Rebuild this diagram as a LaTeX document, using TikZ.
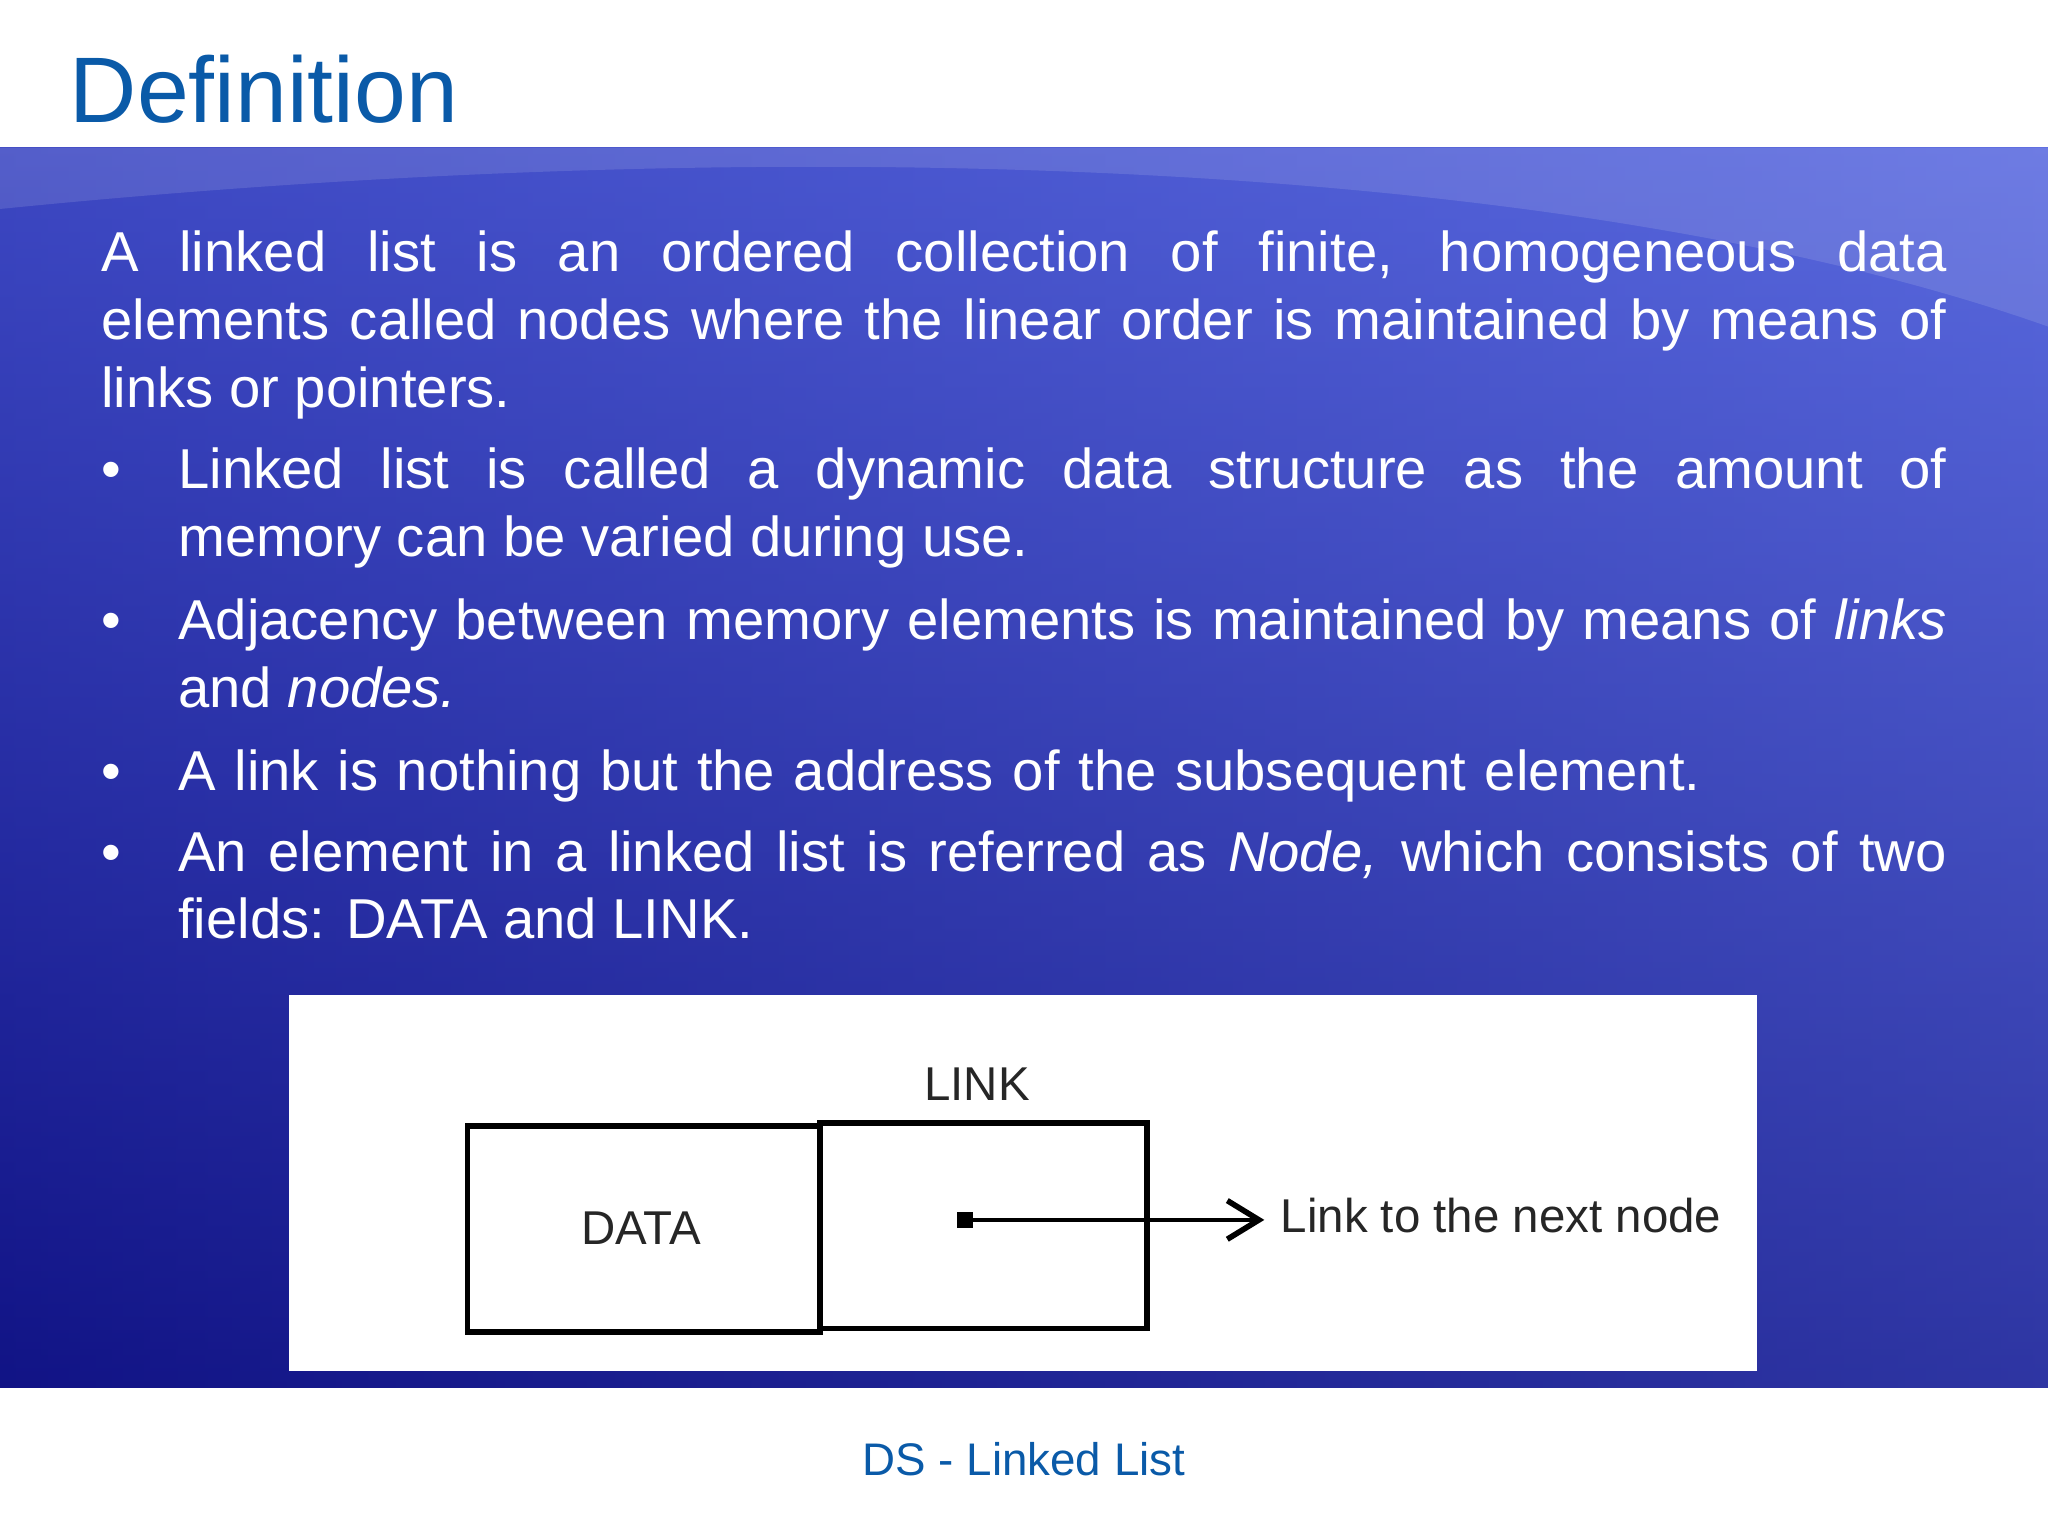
\documentclass[tikz,border=0pt]{standalone}
\usepackage{fontspec}
\setmainfont{Liberation Sans}
\usetikzlibrary{arrows.meta}
\hyphenpenalty=10000
\exhyphenpenalty=10000
\definecolor{titleblue}{HTML}{0A5AA8}
\definecolor{bgA}{HTML}{1A1FA0}
\definecolor{bgB}{HTML}{5A6AE0}
\definecolor{bgC}{HTML}{0A0A70}
\tikzset{
  body/.style={anchor=north west,inner sep=0pt,text=white,align=justify,
    font=\fontsize{16}{19.3}\selectfont},
  bul/.style={anchor=north west,inner sep=0pt,text=white,font=\fontsize{16}{19.3}\selectfont},
  box/.style={draw=black,line width=1.6pt},
  dlab/.style={font=\fontsize{13.5}{16}\selectfont,text=black!85,inner sep=0pt}
}
\begin{document}
\begin{tikzpicture}[x=0.013061cm,y=-0.013061cm]
\useasboundingbox (0,0) rectangle (1568,1176);
\fill[white] (0,0) rectangle (1568,1176);
\shade[left color=bgA,right color=bgB] (0,113) rectangle (1568,1062);
\shade[top color=bgB,bottom color=bgC,opacity=0.55] (0,113) rectangle (1568,1062);
\fill[white,opacity=0.12] (0,160) .. controls (600,100) and (1200,120) .. (1568,250) -- (1568,113) -- (0,113) -- cycle;
\node[anchor=west,inner sep=0pt,text=titleblue,font=\fontsize{26.5}{31}\selectfont] (title) at (53,68) {Definition};
\node[body,text width=1413*0.013061cm] (p0) at (77,171) {\strut A linked list is an ordered collection of finite, homogeneous data\linebreak elements called nodes where the linear order is maintained by means of\linebreak links or pointers.};
\node[bul] (b1) at (77,337) {\strut•};
\node[body,text width=1354*0.013061cm] (p1) at (136,337) {\strut Linked list is called a dynamic data structure as the amount of\linebreak memory can be varied during use.};
\node[bul] (b2) at (77,453) {\strut•};
\node[body,text width=1354*0.013061cm] (p2) at (136,453) {\strut Adjacency between memory elements is maintained by means of \textit{links}\linebreak and \textit{nodes.}};
\node[bul] (b3) at (77,568) {\strut•};
\node[body,text width=1354*0.013061cm,align=left] (p3) at (136,568) {\strut A link is nothing but the address of the subsequent element.};
\node[bul] (b4) at (77,630) {\strut•};
\node[body,text width=1354*0.013061cm] (p4) at (136,630) {\strut An element in a linked list is referred as \textit{Node,} which consists of two\linebreak fields: DATA and LINK.};
\fill[white] (221,762) rectangle (1345,1050);
\draw[box] (358,862) rectangle (628,1020);
\draw[box] (628,860) rectangle (878,1017);
\node[dlab] (link) at (748,830) {LINK};
\node[dlab] (data) at (491,940) {DATA};
\coordinate (dot) at (739,934);
\coordinate (tip) at (968,934);
\fill[black] (733,928) rectangle (745,940);
\node[dlab,anchor=west] (next) at (980,931) {Link to the next node};
\draw[line width=1.3pt,-{Straight Barb[length=9pt,width=11pt,line width=1.6pt]}] (dot) -- (tip);
\node[text=titleblue,font=\fontsize{13}{15}\selectfont,inner sep=0pt] (foot) at (784,1117) {DS - Linked List};
\end{tikzpicture}
\end{document}
